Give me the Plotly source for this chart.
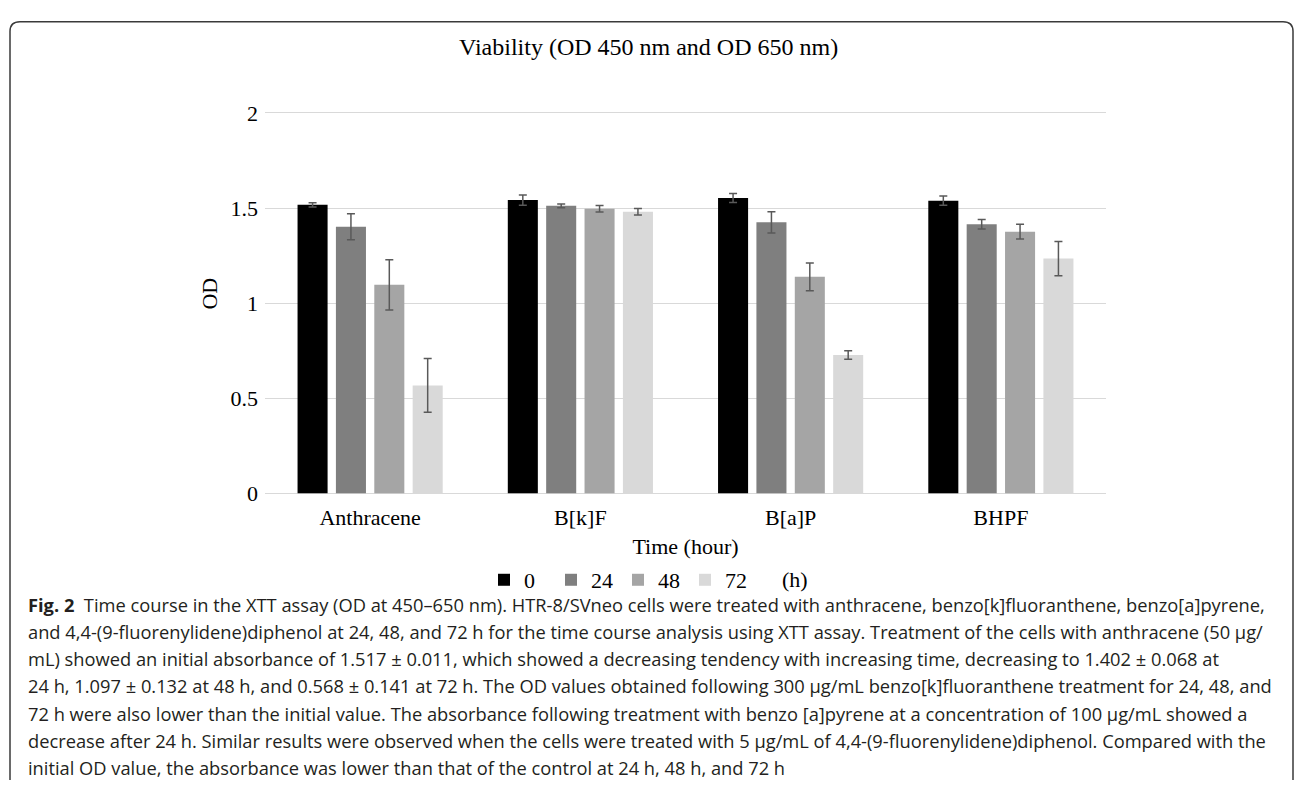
import plotly.graph_objects as go

W, H = 1295, 793

categories = ["Anthracene", "B[k]F", "B[a]P", "BHPF"]
series_names = ["0", "24", "48", "72"]
od_0h = [1.517, 1.542, 1.553, 1.539]
od_24h = [1.402, 1.512, 1.425, 1.415]
od_48h = [1.097, 1.496, 1.139, 1.376]
od_72h = [0.568, 1.481, 0.728, 1.235]
err_0h = [0.011, 0.027, 0.024, 0.024]
err_24h = [0.068, 0.010, 0.056, 0.025]
err_48h = [0.132, 0.017, 0.073, 0.039]
err_72h = [0.141, 0.017, 0.022, 0.090]
y_ticks = [0, 0.5, 1, 1.5, 2]
y_tick_labels = ["0", "0.5", "1", "1.5", "2"]

colors = ["#000000", "#7f7f7f", "#a5a5a5", "#d9d9d9"]
values = [od_0h, od_24h, od_48h, od_72h]
errors = [err_0h, err_24h, err_48h, err_72h]

caption_lines = [
    "<b>Fig. 2</b>  Time course in the XTT assay (OD at 450–650 nm). HTR-8/SVneo cells were treated with anthracene, benzo[k]fluoranthene, benzo[a]pyrene,",
    "and 4,4-(9-fluorenylidene)diphenol at 24, 48, and 72 h for the time course analysis using XTT assay. Treatment of the cells with anthracene (50 µg/",
    "mL) showed an initial absorbance of 1.517 ± 0.011, which showed a decreasing tendency with increasing time, decreasing to 1.402 ± 0.068 at",
    "24 h, 1.097 ± 0.132 at 48 h, and 0.568 ± 0.141 at 72 h. The OD values obtained following 300 µg/mL benzo[k]fluoranthene treatment for 24, 48, and",
    "72 h were also lower than the initial value. The absorbance following treatment with benzo [a]pyrene at a concentration of 100 µg/mL showed a",
    "decrease after 24 h. Similar results were observed when the cells were treated with 5 µg/mL of 4,4-(9-fluorenylidene)diphenol. Compared with the",
    "initial OD value, the absorbance was lower than that of the control at 24 h, 48 h, and 72 h",
]


def px(x):
    return x / W


def py(y):
    return 1 - y / H


SERIF = "Liberation Serif, Times New Roman, serif"

fig = go.Figure()
for name, vals, errs, col in zip(series_names, values, errors, colors):
    fig.add_trace(go.Bar(
        x=categories, y=vals, name=name,
        marker=dict(color=col, line=dict(width=0)),
        error_y=dict(type="data", array=errs, visible=True,
                     color="#595959", thickness=1.5, width=4),
    ))

# y: 0 at 498px, 2 at 106px (196 px per unit); plot top extended by 2px so the 2-gridline is drawn
y_top_px = 104
y_max = 2 + (106 - y_top_px) / 196.0

fig.update_layout(
    width=W, height=H,
    margin=dict(l=0, r=0, t=0, b=0),
    paper_bgcolor="white", plot_bgcolor="white",
    barmode="group", bargap=0.27, bargroupgap=0.217,
    font=dict(family=SERIF, color="#000000", size=22),
    showlegend=True,
    legend=dict(orientation="h", x=px(484), xanchor="left", y=py(587), yanchor="middle",
                font=dict(family=SERIF, size=22, color="#000000"),
                entrywidth=22, entrywidthmode="pixels", itemwidth=30,
                bgcolor="rgba(0,0,0,0)", traceorder="normal"),
    xaxis=dict(domain=[px(265), px(1106)], showgrid=False, showline=False, zeroline=False,
               ticks="", tickfont=dict(family=SERIF, size=22), ticklabelstandoff=8,
               title=dict(text="Time (hour)", font=dict(family=SERIF, size=22), standoff=10)),
    yaxis=dict(domain=[py(498), py(y_top_px)], range=[0, y_max], tickvals=y_ticks, ticktext=y_tick_labels,
               showgrid=True, gridcolor="#d9d9d9", gridwidth=1.2,
               zeroline=True, zerolinecolor="#d9d9d9", zerolinewidth=1.2,
               showline=False, ticks="", tickfont=dict(family=SERIF, size=22), ticklabelstandoff=6),
)

# y axis title
fig.add_annotation(text="OD", x=px(210), y=py(292), xref="paper", yref="paper",
                   showarrow=False, textangle=-90, xanchor="center", yanchor="middle",
                   font=dict(family=SERIF, size=22, color="#000000"))
# title
fig.add_annotation(text="Viability (OD 450 nm and OD 650 nm)", x=px(648), y=py(38),
                   xref="paper", yref="paper", showarrow=False,
                   font=dict(family=SERIF, size=24, color="#000000"),
                   xanchor="center", yanchor="middle")
# legend unit
fig.add_annotation(text="(h)", x=px(780), y=py(587), xref="paper", yref="paper",
                   showarrow=False, xanchor="left", yanchor="middle",
                   font=dict(family=SERIF, size=22, color="#000000"))

# caption
cap_top = 612
cap_step = 28
for i, line in enumerate(caption_lines):
    fig.add_annotation(text=line, x=px(26), y=py(cap_top + i * cap_step), xref="paper", yref="paper",
                       showarrow=False, xanchor="left", yanchor="middle", align="left",
                       font=dict(family="Open Sans, Noto Sans, sans-serif", size=18.3, color="#231f20"))

# card border (rounded top corners)
r = 10
xl, xr, yt = 10, 1293, 12
path = (f"M {px(xl)} 0 L {px(xl)} {py(yt + r)} Q {px(xl)} {py(yt)} {px(xl + r)} {py(yt)} "
        f"L {px(xr - r)} {py(yt)} Q {px(xr)} {py(yt)} {px(xr)} {py(yt + r)} L {px(xr)} 0")
fig.add_shape(type="path", path=path, xref="paper", yref="paper",
              line=dict(color="#3a3a3a", width=1.5))

fig.write_html("out.html", config={"displayModeBar": False},
               post_script="document.body.style.margin='0px';document.body.style.overflow='hidden';")
